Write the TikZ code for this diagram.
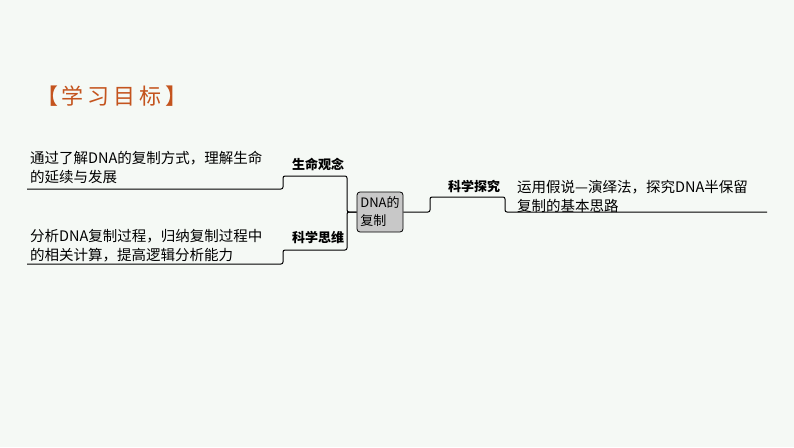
\documentclass[tikz,border=0pt]{standalone}
\usepackage{fontspec}
\setmainfont{Noto Sans CJK SC}
\begin{document}
\begin{tikzpicture}[x=1pt,y=-1pt,
  body/.style={anchor=west,font=\fontsize{14.5}{19}\selectfont,align=left,inner sep=0pt},
  lab/.style={anchor=center,font=\fontsize{13}{15}\selectfont\bfseries,inner sep=0pt},
  conn/.style={line width=1pt,rounded corners=2pt}]
\fill[fill={rgb,255:red,245;green,249;blue,245}] (0,0) rectangle (794,447);
\useasboundingbox (0,0) rectangle (794,447);
\node[anchor=west,text={rgb,255:red,196;green,84;blue,30},font=\fontsize{22}{24}\selectfont,inner sep=0pt] (title) at (36,96) {【\,学\hspace{4pt}习\hspace{4pt}目\hspace{4pt}标\,】};
\node[draw,line width=0.8pt,fill={rgb,255:red,200;green,200;blue,200},rounded corners=3pt,minimum width=46pt,minimum height=40pt,align=left,font=\fontsize{13}{18}\selectfont,inner sep=1pt] (dna) at (380,212) {DNA的\\复制};
\node[lab] (l1) at (318,164) {生命观念};
\node[lab] (l2) at (318,238) {科学思维};
\node[lab] (l3) at (474,186) {科学探究};
\node[body] (t1) at (30,167) {通过了解DNA的复制方式，理解生命\\的延续与发展};
\node[body] (t2) at (30,246) {分析DNA复制过程，归纳复制过程中\\的相关计算，提高逻辑分析能力};
\node[body] (t3) at (517,196) {运用假说—演绎法，探究DNA半保留\\复制的基本思路};
\coordinate (a1) at (27,189); \coordinate (a2) at (283,189); \coordinate (a3) at (283,176); \coordinate (a4) at (347,176);
\coordinate (b1) at (27,264); \coordinate (b2) at (283,264); \coordinate (b3) at (283,250); \coordinate (b4) at (347,250);
\coordinate (c2) at (430,197); \coordinate (c3) at (505,197); \coordinate (c5) at (767,212);
\draw[conn] (a1) -- (a2) -- (a3) -- (a4) |- (dna.west);
\draw[conn] (b1) -- (b2) -- (b3) -- (b4) |- (dna.west);
\draw[conn] (dna.east) -| (c2) -- (c3) |- (c5);
\end{tikzpicture}
\end{document}
